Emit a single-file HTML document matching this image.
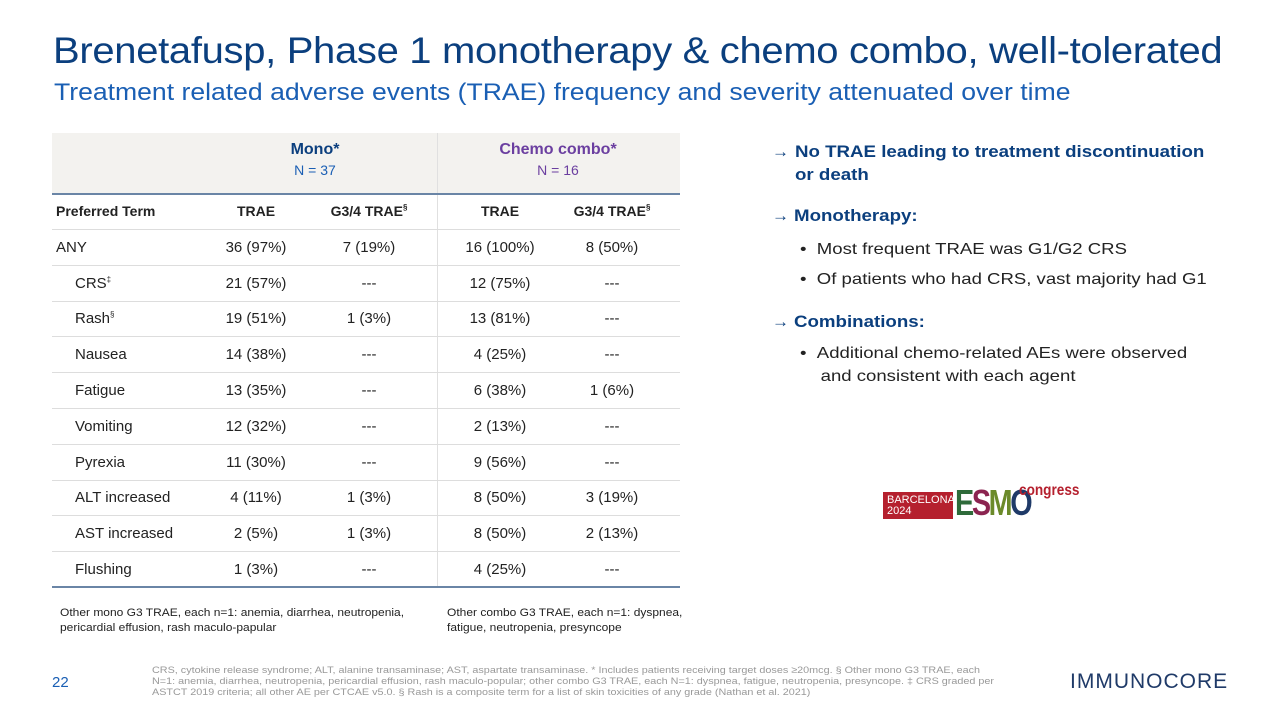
<!DOCTYPE html>
<html><head><meta charset="utf-8"><style>
body{margin:0;width:1280px;height:720px;background:#fff;font-family:"Liberation Sans",sans-serif;position:relative;overflow:hidden}
.a{position:absolute;white-space:nowrap;transform-origin:left top}
.t{position:absolute;font-size:15px;color:#222;white-space:nowrap}
.c{text-align:center;width:120px}
.hl{position:absolute;left:52px;width:628px;height:1px;background:#ddd}
sup{font-size:8px;vertical-align:6px}
</style></head><body>
<div class="a" style="left:53px;top:30px;font-size:37px;color:#0b3f7e;letter-spacing:-0.3px;transform:scaleX(1.081)">Brenetafusp, Phase 1 monotherapy &amp; chemo combo, well-tolerated</div>
<div class="a" style="left:54px;top:79px;font-size:24px;color:#1a5fb4;transform:scaleX(1.107)">Treatment related adverse events (TRAE) frequency and severity attenuated over time</div>

<div class="a" style="left:52px;top:133px;width:628px;height:60px;background:#f3f2ef"></div>
<div class="a" style="left:437px;top:133px;width:1px;height:454px;background:#e0e0e0"></div>
<div class="a" style="left:52px;top:193px;width:628px;height:2px;background:#6a85a6"></div>
<div class="a" style="left:52px;top:586px;width:628px;height:2px;background:#6a85a6"></div>
<div class="a" style="left:245px;top:141px;width:140px;text-align:center;font-size:16px;font-weight:bold;color:#0b3f7e">Mono*</div>
<div class="a" style="left:245px;top:162px;width:140px;text-align:center;font-size:14px;color:#1a5fb4">N = 37</div>
<div class="a" style="left:488px;top:141px;width:140px;text-align:center;font-size:16px;font-weight:bold;color:#6b3fa0">Chemo combo*</div>
<div class="a" style="left:488px;top:162px;width:140px;text-align:center;font-size:14px;color:#6b3fa0">N = 16</div>

<div id="rows"></div>
<script>
var r=[["Preferred Term","TRAE","G3/4 TRAE<sup>§</sup>","TRAE","G3/4 TRAE<sup>§</sup>"],
["ANY","36 (97%)","7 (19%)","16 (100%)","8 (50%)"],
["CRS<sup>‡</sup>","21 (57%)","---","12 (75%)","---"],
["Rash<sup>§</sup>","19 (51%)","1 (3%)","13 (81%)","---"],
["Nausea","14 (38%)","---","4 (25%)","---"],
["Fatigue","13 (35%)","---","6 (38%)","1 (6%)"],
["Vomiting","12 (32%)","---","2 (13%)","---"],
["Pyrexia","11 (30%)","---","9 (56%)","---"],
["ALT increased","4 (11%)","1 (3%)","8 (50%)","3 (19%)"],
["AST increased","2 (5%)","1 (3%)","8 (50%)","2 (13%)"],
["Flushing","1 (3%)","---","4 (25%)","---"]];
var cx=[256,369,500,612],h="";
for(var i=0;i<r.length;i++){var y=212+i*35.8-9;
var st=i==0?"font-weight:bold;font-size:14px;":"";
h+='<div class="t" style="'+st+'left:'+(i<2?56:75)+'px;top:'+y+'px">'+r[i][0]+'</div>';
for(var j=0;j<4;j++)h+='<div class="t c" style="'+st+'left:'+(cx[j]-60)+'px;top:'+y+'px">'+r[i][j+1]+'</div>';
if(i>0&&i<r.length-1)h+='<div class="hl" style="top:'+(212+i*35.8+17)+'px"></div>';
if(i==0)h+='<div class="hl" style="top:229px"></div>';}
document.getElementById("rows").innerHTML=h;
</script>

<div class="a" style="left:60px;top:606px;font-size:11px;line-height:15px;color:#222;transform:scaleX(1.09)">Other mono G3 TRAE, each n=1: anemia, diarrhea, neutropenia,<br>pericardial effusion, rash maculo-papular</div>
<div class="a" style="left:447px;top:606px;font-size:11px;line-height:15px;color:#222;transform:scaleX(1.09)">Other combo G3 TRAE, each n=1: dyspnea,<br>fatigue, neutropenia, presyncope</div>

<div class="a" style="left:772px;top:140px;font-size:17px;line-height:23px;color:#0b3f7e;font-weight:bold"><span style="font-weight:normal;position:absolute;left:0">→</span><div style="margin-left:23px;transform:scaleX(1.1);transform-origin:left">No TRAE leading to treatment discontinuation<br>or death</div></div>
<div class="a" style="left:772px;top:206px;font-size:17px;color:#0b3f7e;font-weight:bold"><span style="font-weight:normal">→</span> <span style="display:inline-block;transform:scaleX(1.1);transform-origin:left">Monotherapy:</span></div>
<div class="a" style="left:800px;top:238px;font-size:16px;line-height:23px;color:#222;transform:scaleX(1.16)">•&nbsp;&nbsp;Most frequent TRAE was G1/G2 CRS</div>
<div class="a" style="left:800px;top:268px;font-size:16px;line-height:23px;color:#222;transform:scaleX(1.16)">•&nbsp;&nbsp;Of patients who had CRS, vast majority had G1</div>
<div class="a" style="left:772px;top:312px;font-size:17px;color:#0b3f7e;font-weight:bold"><span style="font-weight:normal">→</span> <span style="display:inline-block;transform:scaleX(1.1);transform-origin:left">Combinations:</span></div>
<div class="a" style="left:800px;top:342px;font-size:16px;line-height:23px;color:#222;transform:scaleX(1.16)">•&nbsp;&nbsp;Additional chemo-related AEs were observed<br>&nbsp;&nbsp;&nbsp;&nbsp;and consistent with each agent</div>

<div class="a" style="left:883px;top:492px;width:70px;height:27px;background:#b5202e;color:#fff;font-size:11px;line-height:11px;padding:3px 0 0 4px;box-sizing:border-box">BARCELONA<br>2024</div>
<div class="a" style="left:955px;top:486px;font-size:36px;font-weight:bold;line-height:34px;letter-spacing:-3px;transform:scaleX(0.8)"><span style="color:#2e6b3a">E</span><span style="color:#8b2450">S</span><span style="color:#6b8a2a">M</span><span style="color:#1f3a68">O</span></div>
<div class="a" style="left:1019px;top:482px;font-size:16px;font-weight:bold;color:#b5202e;transform:scaleX(0.85)">congress</div>

<div class="a" style="left:52px;top:674px;font-size:15px;color:#1a5fb4">22</div>
<div class="a" style="left:152px;top:665px;font-size:9.5px;line-height:11px;color:#999;transform:scaleX(1.137)">CRS, cytokine release syndrome; ALT, alanine transaminase; AST, aspartate transaminase. * Includes patients receiving target doses ≥20mcg. § Other mono G3 TRAE, each<br>N=1: anemia, diarrhea, neutropenia, pericardial effusion, rash maculo-popular; other combo G3 TRAE, each N=1: dyspnea, fatigue, neutropenia, presyncope. ‡ CRS graded per<br>ASTCT 2019 criteria; all other AE per CTCAE v5.0. § Rash is a composite term for a list of skin toxicities of any grade (Nathan et al. 2021)</div>
<div class="a" style="left:1070px;top:670px;font-size:21px;letter-spacing:1px;color:#1f3a68">IMMUNOCORE</div>
</body></html>
